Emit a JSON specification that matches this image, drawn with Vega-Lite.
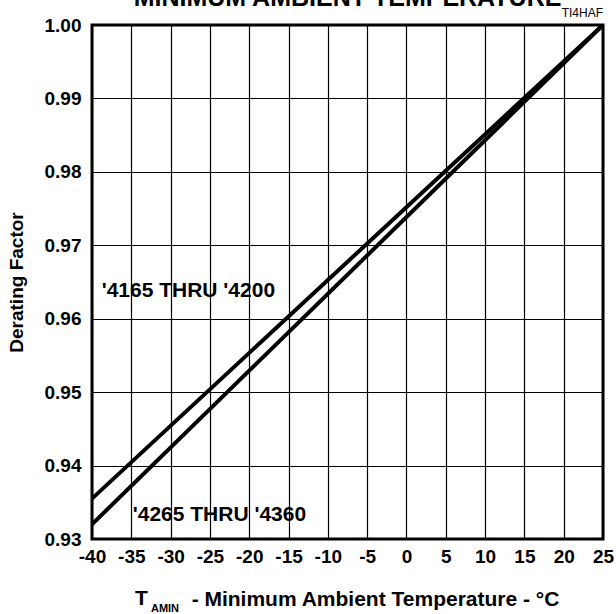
{
  "$schema": "https://vega.github.io/schema/vega-lite/v6.json",
  "width": 511,
  "height": 514,
  "autosize": "none",
  "padding": {"left": 92, "top": 25, "right": 13, "bottom": 75},
  "background": "white",
  "config": {"view": {"stroke": "black", "strokeWidth": 3}, "font": "Liberation Sans"},
  "encoding": {
    "x": {"field": "t", "type": "quantitative",
      "scale": {"domain": [-40, 25], "nice": false, "zero": false},
      "axis": {"values": [-40, -35, -30, -25, -20, -15, -10, -5, 0, 5, 10, 15, 20, 25],
        "labelExpr": "'' + datum.value",
        "grid": true, "gridColor": "black", "gridWidth": 1.2, "gridOpacity": 1,
        "domain": false, "ticks": false, "labelFlush": false,
        "labelFont": "Liberation Sans", "labelFontSize": 19, "labelFontWeight": "bold", "labelColor": "black", "labelPadding": 8,
        "title": "- Minimum Ambient Temperature - °C", "titleFont": "Liberation Sans", "titleFontSize": 21, "titleFontWeight": "bold", "titleColor": "black",
        "titleX": 283, "titleY": 66, "titleBaseline": "alphabetic", "titleAlign": "center", "titleAnchor": null}},
    "y": {"field": "f", "type": "quantitative",
      "scale": {"domain": [0.93, 1.0], "nice": false, "zero": false},
      "axis": {"values": [0.93, 0.94, 0.95, 0.96, 0.97, 0.98, 0.99, 1.0], "format": ".2f",
        "grid": true, "gridColor": "black", "gridWidth": 1.2, "gridOpacity": 1,
        "domain": false, "ticks": false, "labelFlush": false,
        "labelFont": "Liberation Sans", "labelFontSize": 19, "labelFontWeight": "bold", "labelColor": "black", "labelPadding": 11,
        "title": "Derating Factor", "titleFont": "Liberation Sans", "titleFontSize": 19, "titleFontWeight": "bold", "titleColor": "black",
        "titleX": -76, "titleY": 257, "titleAngle": -90, "titleBaseline": "middle", "titleAlign": "center"}}
  },
  "layer": [
    {
      "data": {"values": [
        {"series": "4165-4200", "t": -40, "f": 0.9355},
        {"series": "4165-4200", "t": 25, "f": 1.0},
        {"series": "4265-4360", "t": -40, "f": 0.932},
        {"series": "4265-4360", "t": 25, "f": 1.0}
      ]},
      "mark": {"type": "line", "color": "black", "strokeWidth": 4, "clip": true},
      "encoding": {"detail": {"field": "series", "type": "nominal"}}
    },
    {
      "data": {"values": [
        {"label": "'4165 THRU '4200", "t": -38.77, "f": 0.963},
        {"label": "'4265 THRU '4360", "t": -34.82, "f": 0.9325}
      ]},
      "mark": {"type": "text", "align": "left", "baseline": "alphabetic", "fontSize": 21, "fontWeight": "bold", "font": "Liberation Sans", "color": "black"},
      "encoding": {"text": {"field": "label"}}
    },
    {
      "data": {"values": [{"label": "TI4HAF", "t": 25, "f": 1.0}]},
      "mark": {"type": "text", "align": "right", "baseline": "alphabetic", "dy": -8, "fontSize": 12, "font": "Liberation Sans", "color": "black"},
      "encoding": {"text": {"field": "label"}}
    },
    {
      "data": {"values": [{"label": "MINIMUM AMBIENT TEMPERATURE", "t": -7.5, "f": 1.0026}]},
      "mark": {"type": "text", "align": "center", "baseline": "alphabetic", "fontSize": 25, "fontWeight": "bold", "font": "Liberation Sans", "color": "black"},
      "encoding": {"text": {"field": "label"}}
    },
    {
      "data": {"values": [{"label": "T", "t": -34.53, "f": 0.921}]},
      "mark": {"type": "text", "align": "left", "baseline": "alphabetic", "fontSize": 21, "fontWeight": "bold", "font": "Liberation Sans", "color": "black"},
      "encoding": {"text": {"field": "label"}}
    },
    {
      "data": {"values": [{"label": "AMIN", "t": -32.5, "f": 0.92006}]},
      "mark": {"type": "text", "align": "left", "baseline": "alphabetic", "fontSize": 11, "fontWeight": "bold", "font": "Liberation Sans", "color": "black"},
      "encoding": {"text": {"field": "label"}}
    }
  ]
}
